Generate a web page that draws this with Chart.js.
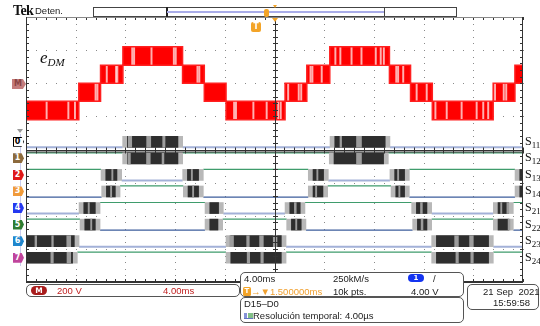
<!DOCTYPE html>
<html>
<head>
<meta charset="utf-8">
<script src="https://cdn.jsdelivr.net/npm/chart.js@4.4.1/dist/chart.umd.min.js"></script>
<style>
html,body{margin:0;padding:0;background:#fff;}
#scope{position:relative;width:540px;height:326px;overflow:hidden;font-family:"Liberation Sans",Arial,sans-serif;}
#scope canvas{position:absolute;left:0;top:0;}
.txt{position:absolute;white-space:nowrap;font-size:9.5px;line-height:12px;color:#222;}
.box{position:absolute;border:1px solid #555;border-radius:5px;background:#fff;box-sizing:border-box;}
.tab{position:absolute;width:11px;height:10px;font:bold 8px/10px "DejaVu Sans",sans-serif;color:#fff;text-align:center;
     clip-path:polygon(0 0,78% 0,100% 50%,78% 100%,0 100%);padding-right:2px;box-sizing:border-box;}
.sl{position:absolute;left:525px;font-family:"Liberation Serif","Times New Roman",serif;font-size:12px;line-height:12px;color:#111;}
.sl sub{font-size:9px;vertical-align:-3px;}
</style>
</head>
<body>
<div id="scope">
  <canvas id="c" width="540" height="326"></canvas>

  <!-- header -->
  <div class="txt" style="left:13px;top:4px;font:bold 14px/14px 'Liberation Serif',serif;letter-spacing:-0.6px;color:#111;">Tek</div>
  <div class="txt" style="left:35px;top:5px;font-size:9.5px;">Deten.</div>
  <div style="position:absolute;left:93px;top:7px;width:364px;height:10px;border:1px solid #444;box-sizing:border-box;"></div>
  <div style="position:absolute;left:166px;top:7px;width:1.5px;height:10px;background:#222;"></div>
  <div style="position:absolute;left:384px;top:7px;width:1px;height:10px;background:#444;"></div>
  <div style="position:absolute;left:167px;top:11px;width:217px;height:2px;background:#a9ace8;"></div>
  <div style="position:absolute;left:264px;top:9px;width:5px;height:8px;border-radius:2px;background:#f3a428;"></div>
  <div style="position:absolute;left:273px;top:5px;width:0;height:0;border-left:2.5px solid transparent;border-right:2.5px solid transparent;border-top:3px solid #f3a428;"></div>
  <div style="position:absolute;left:271.5px;top:18px;width:0;height:0;border-left:3.5px solid transparent;border-right:3.5px solid transparent;border-top:4px solid #f3a428;"></div>
  <div style="position:absolute;left:251px;top:22px;width:10px;height:10px;border-radius:2px;background:#f3a428;color:#fff;font:bold 8px/10px 'DejaVu Sans',sans-serif;text-align:center;">T</div>

  <!-- analog trace label and ground marker -->
  <div class="txt" style="left:40px;top:49px;font:italic 17px/18px 'Liberation Serif',serif;color:#111;">e<span style="font-size:11px;vertical-align:-3px;">DM</span></div>
  <div class="tab" style="left:12px;top:79px;width:14px;background:#c47c7c;color:#8a4444;">M</div>

  <!-- digital group marker and channel tabs -->
  <div style="position:absolute;left:19.5px;top:134px;width:1.5px;height:132px;background:#c8cbee;"></div>
  <div style="position:absolute;left:17px;top:129px;width:0;height:0;border-left:3px solid transparent;border-right:3px solid transparent;border-top:4px solid #999;"></div>
  <div id="tabs"></div>
  <div id="slabels"></div>

  <!-- readout boxes -->
  <div class="box" style="left:26px;top:284px;width:214px;height:13px;"></div>
  <div style="position:absolute;left:31px;top:286px;width:16px;height:9px;border-radius:5px;background:#a81c1c;color:#fff;font:bold 7.5px/9px 'DejaVu Sans',sans-serif;text-align:center;">M</div>
  <div class="txt" style="left:57px;top:284.5px;color:#c02020;">200 V</div>
  <div class="txt" style="left:163px;top:284.5px;color:#c02020;">4.00ms</div>

  <div class="box" style="left:240px;top:272px;width:224px;height:25px;"></div>
  <div class="txt" style="left:244px;top:272.5px;">4.00ms</div>
  <div class="txt" style="left:333px;top:272.5px;">250kM/s</div>
  <div style="position:absolute;left:408px;top:274px;width:16px;height:8px;border-radius:4px;background:#1434f0;color:#fff;font:bold 7px/8px 'DejaVu Sans',sans-serif;text-align:center;">1</div>
  <div class="txt" style="left:433px;top:272.5px;">/</div>
  <div style="position:absolute;left:243px;top:287px;width:8px;height:9px;border-radius:1.5px;background:#f3a428;color:#fff;font:bold 7px/9px 'DejaVu Sans',sans-serif;text-align:center;">T</div>
  <div class="txt" style="left:251px;top:285.5px;color:#f0a030;">→▼1.500000ms</div>
  <div class="txt" style="left:333px;top:285.5px;">10k pts.</div>
  <div class="txt" style="left:411px;top:285.5px;">4.00 V</div>

  <div class="box" style="left:240px;top:297px;width:224px;height:26px;"></div>
  <div class="txt" style="left:244px;top:297.5px;">D15–D0</div>
  <div style="position:absolute;left:244px;top:313px;width:9px;height:5px;border-bottom:1px solid #3a52b0;background:linear-gradient(90deg,#6a7ad0 0 30%,#fff 30% 45%,#64b06a 45% 100%);opacity:0.8;"></div>
  <div class="txt" style="left:253px;top:310px;">Resolución temporal: 4.00µs</div>

  <div class="box" style="left:467px;top:284px;width:72px;height:26px;"></div>
  <div class="txt" style="left:483px;top:285.5px;">21 Sep&nbsp;&nbsp;2021</div>
  <div class="txt" style="left:493px;top:297px;">15:59:58</div>
</div>

<script>
// ---- eDM: five-level staircase, PWM band between two adjacent levels ----
const eDmLevelsV = [-220, -108, 0, 108, 220];
const eDmEdgesMs = [0, 4.25, 6.0, 7.8, 12.6, 14.35, 16.1, 20.85, 22.6, 24.45, 29.25, 30.95, 32.7, 37.6, 39.35, 40];
const eDmBand    = [0, 1, 2, 3, 2, 1, 0, 1, 2, 3, 2, 1, 0, 1, 2];
// instants where the switching pauses long enough to leave a pale column in the band
const eDmPauseMs = [1.66, 3.41, 3.94, 5.6, 5.75, 6.5, 7.25, 7.35, 8.55, 8.7, 10.1, 11.9, 12.05,
                    13.8, 13.95, 16.75, 16.9, 18.3, 19.37, 20.3, 20.5, 21.1, 21.95, 22.15, 22.9, 23.05,
                    23.8, 24.9, 25.3, 26.2, 27.0, 28.15, 28.55, 28.8, 29.8, 29.95, 30.36, 31.44, 32.25,
                    32.95, 33.86, 35.06, 36.27, 36.8, 37.2, 37.75, 38.45, 38.65];

// ---- gate signals: state after each edge (0 low, 1 high, 2 switching burst) ----
const gateNames  = ['S11', 'S12', 'S13', 'S14', 'S21', 'S22', 'S23', 'S24'];
const s11Edges = [0, 7.78, 12.61, 24.47, 29.29, 40];
const s11State = [0, 2, 0, 2, 0];
const s12Edges = [0, 7.78, 12.61, 24.41, 29.16, 40];
const s12State = [1, 2, 1, 2, 1];
const s13Edges = [0, 6.04, 7.70, 12.61, 14.27, 22.72, 24.33, 29.29, 30.85, 39.36, 40];
const s13State = [1, 2, 0, 2, 1, 2, 0, 2, 1, 2];
const s14Edges = [0, 6.09, 7.57, 12.66, 14.27, 22.72, 24.28, 29.38, 30.85, 39.36, 40];
const s14State = [0, 2, 1, 2, 0, 2, 1, 2, 0, 2];
const s21Edges = [0, 4.27, 5.96, 14.41, 15.88, 20.85, 22.45, 31.04, 32.65, 37.61, 39.22, 40];
const s21State = [0, 2, 1, 2, 0, 2, 1, 2, 0, 2, 1];
const s22Edges = [0, 4.35, 5.96, 14.41, 15.83, 20.98, 22.53, 31.12, 32.65, 37.61, 39.22, 40];
const s22State = [1, 2, 0, 2, 1, 2, 0, 2, 1, 2, 0];
const s23Edges = [0, 4.27, 16.1, 20.93, 32.65, 37.61, 40];
const s23State = [2, 0, 2, 0, 2, 0];
const s24Edges = [0, 4.13, 16.1, 20.93, 32.65, 37.61, 40];
const s24State = [2, 1, 2, 1, 2, 1];
// sparser stretches inside the bursts (start, end in ms)
const s11Sparse = [[8.23, 8.51], [9.71, 10.04], [11.0, 11.19], [25.27, 25.4], [26.6, 27.0]];
const s12Sparse = [[8.2, 8.4], [9.7, 10.0], [10.95, 11.1], [26.6, 27.0]];
const s13Sparse = [[6.9, 7.0], [13.3, 13.4], [23.4, 23.5], [29.9, 30.0]];
const s14Sparse = [[6.8, 6.9], [13.4, 13.5], [23.3, 23.4], [30.0, 30.1]];
const s21Sparse = [[5.0, 5.1], [21.6, 21.75], [31.75, 31.9], [38.2, 38.3], [38.7, 38.85]];
const s22Sparse = [[5.2, 5.3], [21.7, 21.8], [31.8, 31.95], [38.8, 38.95]];
const s23Sparse = [[0.72, 0.86], [2.07, 2.2], [3.28, 3.6], [16.4, 16.7], [17.76, 17.97], [18.8, 19.1], [19.9, 20.2], [34.5, 34.8], [35.7, 36.0]];
const s24Sparse = [[2.0, 2.2], [3.3, 3.6], [17.8, 18.0], [18.9, 19.1], [34.6, 34.8], [35.8, 36.0]];

const gateEdges  = [s11Edges, s12Edges, s13Edges, s14Edges, s21Edges, s22Edges, s23Edges, s24Edges];
const gateState  = [s11State, s12State, s13State, s14State, s21State, s22State, s23State, s24State];
const gateSparse = [s11Sparse, s12Sparse, s13Sparse, s14Sparse, s21Sparse, s22Sparse, s23Sparse, s24Sparse];
const tabColors = ['#ffffff', '#8c6a3c', '#e01818', '#f09a3a', '#2438f0', '#2e7d32', '#1f86cc', '#c0449c'];

// display layout (digital lanes in half-division units from the top)
const LANE0 = 7.2, LANE_H = 0.67, BURST_FADE = 0.38, T_END = 40;

// ---- datasets ----
const datasets = [];
const upper = [], lower = [];
eDmBand.forEach((b, i) => {
  upper.push({x: eDmEdgesMs[i], y: eDmLevelsV[b + 1]});
  lower.push({x: eDmEdgesMs[i], y: eDmLevelsV[b]});
});
const lastBand = eDmBand[eDmBand.length - 1];
upper.push({x: T_END, y: eDmLevelsV[lastBand + 1]});
lower.push({x: T_END, y: eDmLevelsV[lastBand]});
const redLine = {type: 'line', yAxisID: 'yA', xAxisID: 'x', stepped: true, pointRadius: 0,
                 borderColor: '#ff2020', borderWidth: 1.5, order: 6};
datasets.push(Object.assign({data: upper, fill: false}, redLine));
datasets.push(Object.assign({data: lower, fill: '-1', backgroundColor: '#ff0000'}, redLine));

// pale columns inside the band, spanning the band active at that instant
const bandAt = t => { let i = 0; while (i < eDmBand.length - 1 && eDmEdgesMs[i + 1] <= t) i++; return eDmBand[i]; };
datasets.push({type: 'bar', indexAxis: 'x', xAxisID: 'x', yAxisID: 'yA', grouped: false, order: 5,
  barThickness: 1.3, borderWidth: 0, backgroundColor: 'rgba(255,235,235,0.75)',
  data: eDmPauseMs.map(t => ({x: t, y: [eDmLevelsV[bandAt(t)] + 6, eDmLevelsV[bandAt(t) + 1] - 6]}))});

const burstGray = [], burstDark = [], burstSparse = [];
gateNames.forEach((name, n) => {
  const hi = LANE0 + n, lo = LANE0 + n + LANE_H, mid = (hi + lo) / 2;
  const edges = gateEdges[n], st = gateState[n];
  const highPts = [], lowPts = [];
  st.forEach((s, i) => {
    const a = edges[i], b = edges[i + 1];
    if (s === 1) highPts.push({x: a, y: hi}, {x: b, y: hi}, {x: b, y: null});
    else if (s === 0) lowPts.push({x: a, y: lo}, {x: b, y: lo}, {x: b, y: null});
    else {
      burstGray.push({x: [a, b], y: mid});
      const a2 = a > 0 ? a + BURST_FADE : a, b2 = b < T_END ? b - BURST_FADE : b;
      burstDark.push({x: [a2, b2], y: mid});
    }
  });
  gateSparse[n].forEach(([a, b]) => burstSparse.push({x: [a, b], y: mid}));
  const even = n % 2 === 0;
  datasets.push({type: 'line', xAxisID: 'x', yAxisID: 'yD', data: highPts, pointRadius: 0,
                 borderColor: '#3f9c6c', borderWidth: 1.2, spanGaps: false, order: 4});
  datasets.push({type: 'line', xAxisID: 'x', yAxisID: 'yD', data: lowPts, pointRadius: 0,
                 borderColor: even ? '#a3b1d8' : '#3d5d9c', borderWidth: even ? 2 : 1.2, spanGaps: false, order: 4});
});
const barBase = {type: 'bar', indexAxis: 'y', xAxisID: 'x', yAxisID: 'yD', grouped: false,
                 barThickness: 11, borderWidth: 0, borderSkipped: false};
datasets.push(Object.assign({data: burstSparse, backgroundColor: '#9c9c9c', order: 1}, barBase));
datasets.push(Object.assign({data: burstDark, backgroundColor: '#2e2e2e', order: 2}, barBase));
datasets.push(Object.assign({data: burstGray, backgroundColor: '#b8b8b8', order: 3}, barBase));

// ---- graticule drawn from the chart's own scales ----
const graticule = {
  id: 'graticule',
  beforeDatasetsDraw(chart) {
    const {ctx, scales: {x, yA}} = chart;
    ctx.save();
    ctx.fillStyle = '#8a8a8a';
    for (let t = 4; t < 40; t += 4) {
      if (t === 20) continue;
      const px = Math.round(x.getPixelForValue(t));
      for (let v = -1200; v <= 400; v += 40) ctx.fillRect(px, Math.round(yA.getPixelForValue(v)), 1, 1);
    }
    for (let v = -1000; v < 400; v += 200) {
      if (v === -400) continue;
      const py = Math.round(yA.getPixelForValue(v));
      for (let t = 0; t <= 40; t += 0.8) ctx.fillRect(Math.round(x.getPixelForValue(t)), py, 1, 1);
    }
    ctx.restore();
  },
  afterDatasetsDraw(chart) {
    const {ctx, chartArea: a, scales: {x, yA}} = chart;
    ctx.save();
    const cx = Math.round(x.getPixelForValue(20)) + 0.5;
    const cy = Math.round(yA.getPixelForValue(-400)) + 0.5;
    ctx.strokeStyle = '#333';
    ctx.lineWidth = 1;
    ctx.beginPath();
    ctx.moveTo(cx, a.top); ctx.lineTo(cx, a.bottom);
    ctx.moveTo(a.left, cy); ctx.lineTo(a.right, cy);
    ctx.moveTo(a.left, cy + 1.5); ctx.lineTo(a.right, cy + 1.5);
    for (let v = -1200; v <= 400; v += 40) {
      const py = Math.round(yA.getPixelForValue(v)) + 0.5;
      ctx.moveTo(cx - 2.5, py); ctx.lineTo(cx + 2.5, py);
      ctx.moveTo(a.left, py); ctx.lineTo(a.left + 3, py);
      ctx.moveTo(a.right, py); ctx.lineTo(a.right - 3, py);
    }
    for (let t = 0; t <= 40; t += 0.8) {
      const px = Math.round(x.getPixelForValue(t)) + 0.5;
      ctx.moveTo(px, cy - 3); ctx.lineTo(px, cy + 3);
      ctx.moveTo(px, a.top); ctx.lineTo(px, a.top + 3);
      ctx.moveTo(px, a.bottom); ctx.lineTo(px, a.bottom - 3);
    }
    ctx.stroke();
    // frame
    ctx.strokeStyle = '#888';
    ctx.beginPath(); ctx.moveTo(a.left, a.top + 0.5); ctx.lineTo(a.right, a.top + 0.5); ctx.stroke();
    ctx.strokeStyle = '#333';
    ctx.beginPath();
    ctx.moveTo(a.left + 0.5, a.top); ctx.lineTo(a.left + 0.5, a.bottom);
    ctx.moveTo(a.right - 0.5, a.top); ctx.lineTo(a.right - 0.5, a.bottom);
    ctx.stroke();
    ctx.lineWidth = 2;
    ctx.beginPath(); ctx.moveTo(a.left, a.bottom); ctx.lineTo(a.right, a.bottom); ctx.stroke();
    ctx.restore();
  }
};

const flat = {display: false, offset: false, grid: {offset: false}};
const chart = new Chart(document.getElementById('c'), {
  type: 'line',
  data: {datasets},
  options: {
    responsive: false, animation: false, events: [], devicePixelRatio: 1,
    layout: {padding: {left: 26, top: 17, right: 17, bottom: 44}},
    plugins: {legend: {display: false}, tooltip: {enabled: false}},
    scales: {
      x:  Object.assign({type: 'linear', axis: 'x', min: 0, max: 40}, flat),
      yA: Object.assign({type: 'linear', axis: 'y', min: -1200, max: 400}, flat),
      yD: Object.assign({type: 'linear', axis: 'y', min: 0, max: 16, reverse: true}, flat)
    }
  },
  plugins: [graticule]
});

// channel tabs and gate names, placed on each lane's centre
const yD = chart.scales.yD;
const tabs = document.getElementById('tabs'), sl = document.getElementById('slabels');
gateNames.forEach((name, n) => {
  const mid = yD.getPixelForValue(LANE0 + n + LANE_H / 2);
  const t = document.createElement('div');
  t.className = 'tab';
  t.textContent = String(n);
  t.style.left = '13px';
  t.style.top = (mid - 5) + 'px';
  t.style.background = tabColors[n];
  if (n === 0) { t.style.color = '#000'; t.style.outline = '1px solid #000'; t.style.outlineOffset = '-1px'; }
  tabs.appendChild(t);
  const s = document.createElement('div');
  s.className = 'sl';
  s.style.top = (mid - 7) + 'px';
  s.innerHTML = name[0] + '<sub>' + name.slice(1) + '</sub>';
  sl.appendChild(s);
});
</script>
</body>
</html>
